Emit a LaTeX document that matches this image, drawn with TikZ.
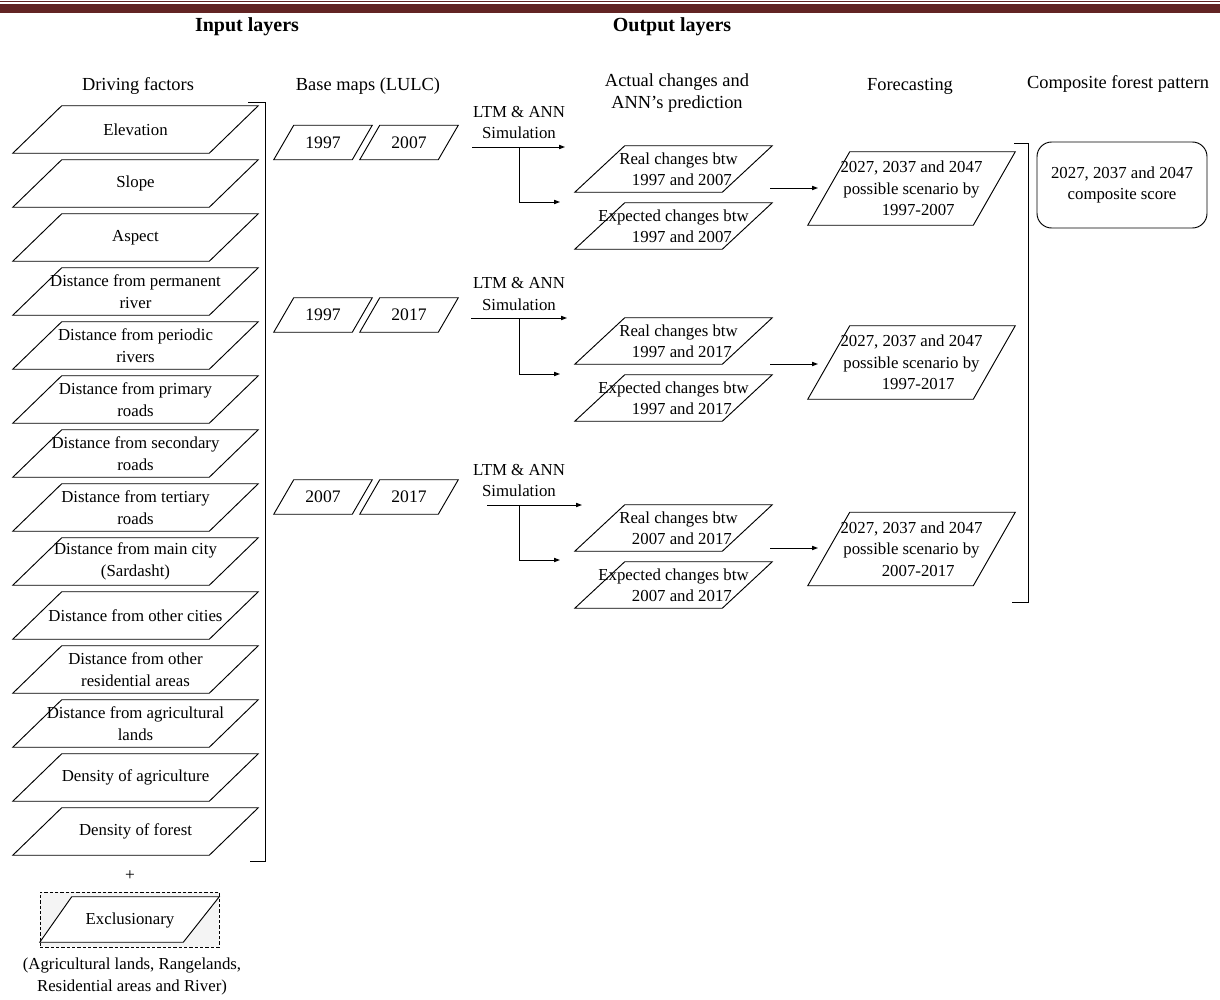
\documentclass[tikz,border=0pt]{standalone}
\usepackage{fontspec}
\setmainfont{Liberation Serif}
\usetikzlibrary{arrows.meta}
\definecolor{barred}{HTML}{622423}
\begin{document}
\begin{tikzpicture}[x=0.75pt,y=-0.75pt,
  line/.style={line width=0.7pt, line join=miter},
  txt/.style={font=\fontsize{12.6}{16}\selectfont, align=center, inner sep=0pt},
  hdr/.style={font=\fontsize{13.8}{16.5}\selectfont, align=center, inner sep=0pt},
  bhdr/.style={font=\bfseries\fontsize{15}{18}\selectfont, inner sep=0pt},
  dfbox/.style={txt, minimum width=183.75pt, minimum height=35.25pt},
  basebox/.style={txt, font=\fontsize{13.2}{16}\selectfont, minimum width=73.5pt, minimum height=25.5pt},
  chbox/.style={txt, minimum width=147.75pt, minimum height=34.5pt},
  fcbox/.style={txt, minimum width=155.25pt, minimum height=54.75pt},
  arr/.style={line, -{Triangle[length=4.5pt,width=3.2pt]}},
  brk/.style={line width=0.75pt}
]
\useasboundingbox (0,0) rectangle (1220,999);
% header bar
\fill[barred] (0,0.8) rectangle (1220,2.3);
\fill[barred] (0,3.7) rectangle (1220,12.7);

% headings
\node[bhdr] (hin) at (247,27) {Input layers};
\node[bhdr] (hout) at (672,27) {Output layers};
\node[hdr] (hdf) at (138,86) {Driving factors};
\node[hdr] (hbm) at (368,86) {Base maps (LULC)};
\node[hdr] (hac) at (677,93) {Actual changes and\\ANN's prediction};
\node[hdr] (hfc) at (910,86) {Forecasting};
\node[hdr] (hcp) at (1118,84) {Composite forest pattern};

% driving factors
\foreach \i/\t in {1/Elevation, 2/Slope, 3/Aspect,
  4/{Distance from permanent\\river}, 5/{Distance from periodic\\rivers},
  6/{Distance from primary\\roads}, 7/{Distance from secondary\\roads},
  8/{Distance from tertiary\\roads}, 9/{Distance from main city\\(Sardasht)},
  10/{Distance from other cities}, 11/{Distance from other\\residential areas},
  12/{Distance from agricultural\\lands}, 13/{Density of agriculture},
  14/{Density of forest}}
  \node[dfbox] (d\i) at (135.5,{129.5+54*(\i-1)}) {\t};
\foreach \i in {1,...,14}
  \draw[line] (d\i.south west) -- ([xshift=36.75pt]d\i.north west) -- (d\i.north east) -- ([xshift=-36.75pt]d\i.south east) -- cycle;

% left bracket
\coordinate (lb1) at (248,102);
\coordinate (lb2) at (265,102);
\coordinate (lb3) at (265,861);
\coordinate (lb4) at (250,861);
\draw[brk] (lb1) -- (lb2) -- (lb3) -- (lb4);

% plus and exclusionary
\node[txt, font=\fontsize{13}{16}\selectfont] (plus) at (130,876) {+};
\node[draw, dashed, dash pattern=on 2.5pt off 1.5pt, line width=0.6pt, fill=gray!9, minimum width=134.25pt, minimum height=41.25pt, inner sep=0pt] (exr) at (129.5,919.5) {};
\node[txt, minimum width=134.25pt, minimum height=33.75pt] (ex) at (129.5,919.5) {};
\draw[line, fill=white] (ex.south west) -- ([xshift=24pt]ex.north west) -- (ex.north east) -- ([xshift=-27pt]ex.south east) -- cycle;
\node[txt] (extxt) at (130,920) {Exclusionary};
\node[txt, font=\fontsize{12.6}{16.5}\selectfont] (exnote) at (132,976) {(Agricultural lands, Rangelands,\\Residential areas and River)};

% base maps
\node[basebox] (b11) at (323,142.5) {1997};
\node[basebox] (b12) at (409,142.5) {2007};
\node[basebox] (b21) at (323,315) {1997};
\node[basebox] (b22) at (409,315) {2017};
\node[basebox] (b31) at (323,497) {2007};
\node[basebox] (b32) at (409,497) {2017};
\foreach \n in {b11,b12,b21,b22,b31,b32}
  \draw[line] (\n.south west) -- ([xshift=15pt]\n.north west) -- (\n.north east) -- ([xshift=-15pt]\n.south east) -- cycle;

% simulation labels
\node[txt] (l1) at (519,122.5) {LTM \& ANN\\Simulation};
\node[txt] (l2) at (519,294) {LTM \& ANN\\Simulation};
\node[txt] (l3) at (519,480.5) {LTM \& ANN\\Simulation};

% changes boxes
\node[chbox] (r1) at (673.5,169) {\hspace{0.6em}Real changes btw\\\hspace{1.0em}1997 and 2007};
\node[chbox] (e1) at (673.5,226) {Expected changes btw\\\hspace{1.0em}1997 and 2007};
\node[chbox] (r2) at (673.5,341) {\hspace{0.6em}Real changes btw\\\hspace{1.0em}1997 and 2017};
\node[chbox] (e2) at (673.5,398) {Expected changes btw\\\hspace{1.0em}1997 and 2017};
\node[chbox] (r3) at (673.5,528) {\hspace{0.6em}Real changes btw\\\hspace{1.0em}2007 and 2017};
\node[chbox] (e3) at (673.5,585) {Expected changes btw\\\hspace{1.0em}2007 and 2017};
\foreach \n in {r1,e1,r2,e2,r3,e3}
  \draw[line] (\n.south west) -- ([xshift=37.5pt]\n.north west) -- (\n.north east) -- ([xshift=-37.5pt]\n.south east) -- cycle;

% forecast boxes
\node[fcbox] (f1) at (911.5,188.5) {2027, 2037 and 2047\\possible scenario by\\\hspace{0.8em}1997-2007};
\node[fcbox] (f2) at (911.5,362.5) {2027, 2037 and 2047\\possible scenario by\\\hspace{0.8em}1997-2017};
\node[fcbox] (f3) at (911.5,549) {2027, 2037 and 2047\\possible scenario by\\\hspace{0.8em}2007-2017};
\foreach \n in {f1,f2,f3}
  \draw[line] (\n.south west) -- ([xshift=31.5pt]\n.north west) -- (\n.north east) -- ([xshift=-31.5pt]\n.south east) -- cycle;

% right bracket
\coordinate (rb1) at (1014,143);
\coordinate (rb2) at (1028,143);
\coordinate (rb3) at (1028,602);
\coordinate (rb4) at (1012,602);
\draw[brk] (rb1) -- (rb2) -- (rb3) -- (rb4);

% composite
\node[txt, draw, line width=0.7pt, rounded corners=11pt, minimum width=127.5pt, minimum height=64.5pt] (comp) at (1122,185) {2027, 2037 and 2047\\composite score};

% simulation arrows
\coordinate (a1s) at (472,147); \coordinate (a1e) at (565,147);
\coordinate (a1m) at (519,147); \coordinate (a1f) at (560,202);
\coordinate (a2s) at (471,318); \coordinate (a2e) at (567,318);
\coordinate (a2m) at (519,318); \coordinate (a2f) at (560,374);
\coordinate (a3s) at (487,505); \coordinate (a3e) at (582,505);
\coordinate (a3m) at (519,505); \coordinate (a3f) at (560,560);
\foreach \g in {1,2,3} {
  \draw[arr] (a\g s) -- (a\g e);
  \draw[arr] (a\g m) |- (a\g f);
}

% forecast arrows
\coordinate (c1s) at (770,188); \coordinate (c1e) at (818,188);
\coordinate (c2s) at (770,364); \coordinate (c2e) at (818,364);
\coordinate (c3s) at (770,548); \coordinate (c3e) at (818,548);
\foreach \g in {1,2,3}
  \draw[arr] (c\g s) -- (c\g e);
\end{tikzpicture}
\end{document}
